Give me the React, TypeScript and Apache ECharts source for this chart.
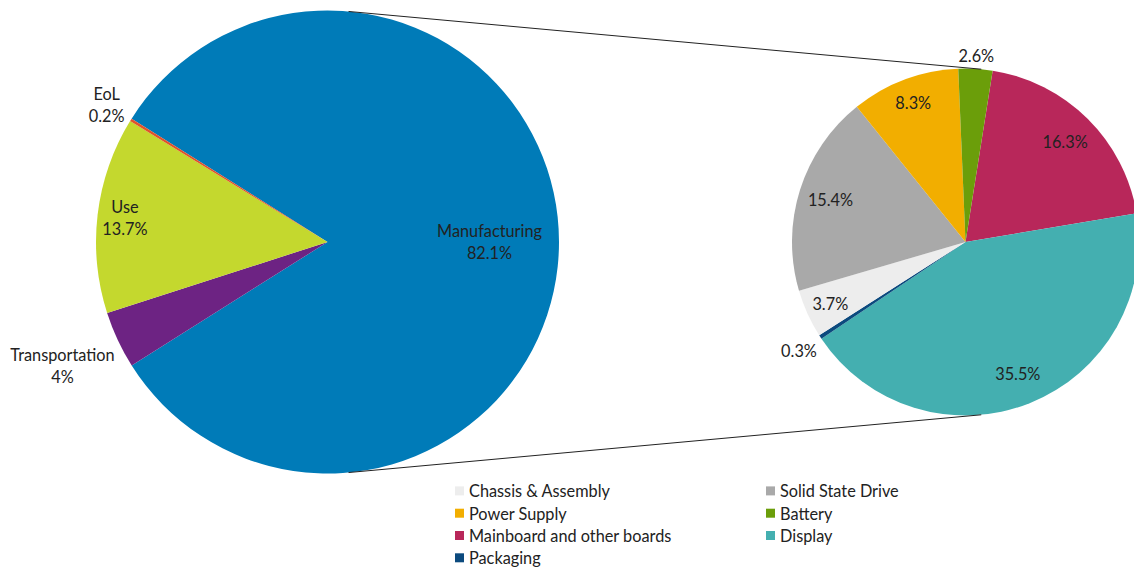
import React, { useEffect, useRef } from "react";
import * as echarts from "echarts";

// ---- data ----
const stageNames = ["Manufacturing", "Transportation", "Use", "EoL"];
const stageValues = [82.1, 4, 13.7, 0.2];

const partNames = [
  "Mainboard and other boards",
  "Display",
  "Packaging",
  "Chassis & Assembly",
  "Solid State Drive",
  "Power Supply",
  "Battery",
];
const partValues = [16.3, 35.5, 0.3, 3.7, 15.4, 8.3, 2.6];

const legendLeftNames = ["Chassis & Assembly", "Power Supply", "Mainboard and other boards", "Packaging"];
const legendRightNames = ["Solid State Drive", "Battery", "Display"];

// ---- styles ----
const stageColors = ["#007BB8", "#6D2383", "#C4D82E", "#E0532B"];
const partColors = ["#B8275A", "#44AFB0", "#0C4A7E", "#EDEDED", "#A9A9A9", "#F2AE00", "#6B9E0A"];

const W = 1134;
const H = 568;
const LP = { cx: 327.5, cy: 242, r: 231.5, start: 147.8 };
const RP = { cx: 965.5, cy: 242, r: 173.5, start: 81 };
const FONT = "Lato";
const TEXT = "#222222";
const FS = 16.3;

function labelRing(
  geo: { cx: number; cy: number; r: number; start: number },
  names: string[],
  values: number[],
  show: string[],
  mid: number,
  formatter: string
) {
  const half = 8;
  return {
    type: "pie",
    silent: true,
    center: [geo.cx, geo.cy],
    radius: [mid - 3 - half, mid - 3 + half],
    startAngle: geo.start,
    clockwise: true,
    avoidLabelOverlap: false,
    legendHoverLink: false,
    itemStyle: { color: "rgba(0,0,0,0)", borderWidth: 0 },
    emphasis: { disabled: true },
    labelLine: { show: false },
    label: {
      show: true,
      position: "inside",
      formatter,
      color: TEXT,
      fontSize: FS,
      fontFamily: FONT,
      lineHeight: 22,
      align: "center",
    },
    data: names.map((n, i) => ({
      name: n,
      value: values[i],
      label: { show: show.indexOf(n) >= 0 },
    })),
    z: 5,
  };
}

export default function App() {
  const ref = useRef<HTMLDivElement>(null);

  useEffect(() => {
    if (!ref.current) return;
    const chart = echarts.init(ref.current, undefined, { renderer: "svg", width: W, height: H });

    const d = RP.cx - LP.cx;
    const sinT = (LP.r - RP.r) / d;
    const cosT = Math.sqrt(1 - sinT * sinT);
    const lineStyle = { stroke: "#222222", lineWidth: 1 };

    const legendBase = {
      orient: "vertical",
      icon: "rect",
      itemWidth: 9,
      itemHeight: 9,
      itemGap: 6.3,
      padding: 0,
      selectedMode: false,
      textStyle: { color: TEXT, fontSize: FS, fontFamily: FONT },
    };

    const option: any = {
      animation: false,
      backgroundColor: "#ffffff",
      legend: [
        { ...legendBase, left: 455, top: 482.9, data: legendLeftNames },
        { ...legendBase, left: 766, top: 482.9, data: legendRightNames },
      ],
      graphic: [
        {
          type: "line",
          z: 10,
          shape: {
            x1: LP.cx + LP.r * sinT,
            y1: LP.cy - LP.r * cosT,
            x2: RP.cx + RP.r * sinT,
            y2: RP.cy - RP.r * cosT,
          },
          style: lineStyle,
        },
        {
          type: "line",
          z: 10,
          shape: {
            x1: LP.cx + LP.r * sinT,
            y1: LP.cy + LP.r * cosT,
            x2: RP.cx + RP.r * sinT,
            y2: RP.cy + RP.r * cosT,
          },
          style: lineStyle,
        },
      ],
      series: [
        {
          type: "pie",
          name: "stages",
          center: [LP.cx, LP.cy],
          radius: LP.r,
          startAngle: LP.start,
          clockwise: true,
          label: { show: false },
          labelLine: { show: false },
          itemStyle: { borderWidth: 0 },
          emphasis: { disabled: true },
          data: stageNames.map((n, i) => ({
            name: n,
            value: stageValues[i],
            itemStyle: { color: stageColors[i] },
          })),
        },
        {
          type: "pie",
          name: "parts",
          center: [RP.cx, RP.cy],
          radius: RP.r,
          startAngle: RP.start,
          clockwise: true,
          label: { show: false },
          labelLine: { show: false },
          itemStyle: { borderWidth: 0 },
          emphasis: { disabled: true },
          data: partNames.map((n, i) => ({
            name: n,
            value: partValues[i],
            itemStyle: { color: partColors[i] },
          })),
        },
        labelRing(LP, stageNames, stageValues, ["Manufacturing"], 162, "{b}\n{c}%"),
        labelRing(LP, stageNames, stageValues, ["Use"], 204, "{b}\n{c}%"),
        labelRing(LP, stageNames, stageValues, ["Transportation"], 292.5, "{b}\n{c}%"),
        labelRing(LP, stageNames, stageValues, ["EoL"], 260, "{b}\n{c}%"),
        labelRing(RP, partNames, partValues, ["Mainboard and other boards", "Display", "Solid State Drive"], 141.5, "{c}%"),
        labelRing(RP, partNames, partValues, ["Power Supply", "Chassis & Assembly"], 148.5, "{c}%"),
        labelRing(RP, partNames, partValues, ["Battery"], 187.3, "{c}%"),
        labelRing(RP, partNames, partValues, ["Packaging"], 199, "{c}%"),
      ],
    };

    chart.setOption(option);
    return () => {
      chart.dispose();
    };
  }, []);

  return (
    <div
      ref={ref}
      style={{ position: "fixed", left: 0, top: 0, width: W, height: H, background: "#fff" }}
    />
  );
}
